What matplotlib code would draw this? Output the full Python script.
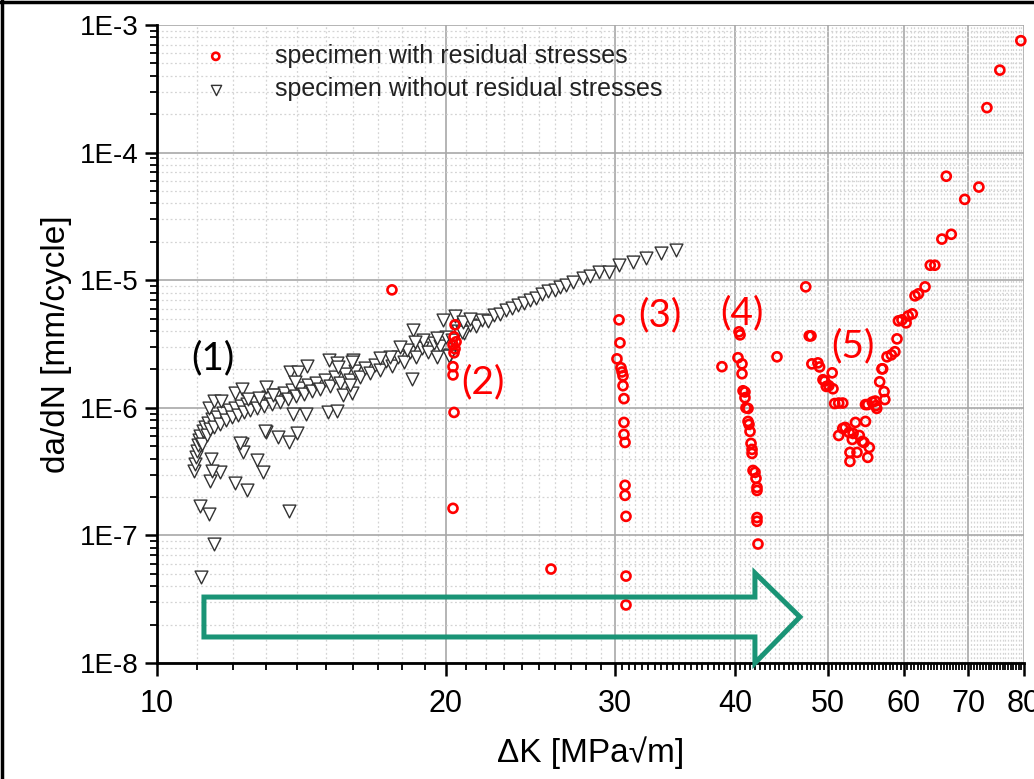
import numpy as np
import matplotlib
matplotlib.use("Agg")
import matplotlib.pyplot as plt
from matplotlib import font_manager
from matplotlib.lines import Line2D
from matplotlib.patches import Polygon
from matplotlib.ticker import FixedLocator, LogLocator, NullFormatter

# specimen without residual stresses (main band, then scattered points)
free_dk = [10.93, 10.95, 10.98, 11.01, 11.03, 11.06, 11.09, 11.14, 11.17, 11.22,
           11.27, 11.30, 11.35, 11.41, 11.47, 11.55, 11.63, 11.72, 11.80, 11.88,
           11.97, 12.06, 12.14, 12.23, 12.32, 12.41, 12.50, 12.62, 12.71, 12.80,
           12.93, 13.05, 13.18, 13.30, 13.43, 13.56, 13.69, 13.82, 13.96, 14.09,
           14.23, 14.36, 14.50, 14.64, 14.78, 14.96, 15.14, 15.33, 15.51, 15.70,
           15.89, 16.08, 16.27, 16.47, 16.67, 16.87, 17.08, 17.32, 17.57, 17.83,
           18.08, 18.35, 18.61, 18.88, 19.16, 19.43, 19.72, 20.00, 20.29, 20.59,
           20.88, 21.19, 21.49, 21.80, 22.12, 22.44, 22.77, 23.10, 23.43, 23.77,
           24.11, 24.47, 24.82, 25.18, 25.54, 25.98, 26.29, 26.67, 27.12, 27.78,
           28.25, 28.87, 29.57, 30.29, 31.32, 32.31, 33.50, 34.72,
           11.11, 11.47, 11.09, 11.33, 13.72, 12.06, 12.41, 12.71, 12.89, 12.26,
           12.29, 11.38, 11.63, 11.35, 11.41, 13.37, 13.72, 13.99, 12.99, 11.33,
           11.47, 11.66, 12.06, 12.26, 12.44, 12.99, 12.77, 13.21, 13.75, 14.02,
           14.33, 13.92, 15.11, 15.40, 15.62, 15.96, 15.07, 15.40, 16.00, 13.86,
           14.30, 12.96, 12.20, 18.48, 18.43, 19.57, 20.20, 19.86, 18.93, 18.57,
           18.21, 17.91, 17.49, 17.08, 15.96, 15.44, 15.89, 20.78, 20.44, 20.14,
           19.57, 20.83, 21.19]
free_dadn = [3.17e-7, 3.60e-7, 4.09e-7, 4.55e-7, 5.07e-7, 5.55e-7, 5.97e-7, 5.16e-7, 6.53e-7, 7.02e-7,
             6.07e-7, 7.54e-7, 6.77e-7, 8.11e-7, 7.02e-7, 8.40e-7, 7.41e-7, 9.03e-7, 7.96e-7, 9.54e-7,
             8.40e-7, 9.89e-7, 8.71e-7, 1.04e-6, 9.20e-7, 1.08e-6, 9.54e-7, 1.11e-6, 9.89e-7, 1.16e-6,
             1.04e-6, 1.22e-6, 1.08e-6, 1.26e-6, 1.11e-6, 1.31e-6, 1.18e-6, 1.38e-6, 1.24e-6, 1.43e-6,
             1.29e-6, 1.51e-6, 1.36e-6, 1.57e-6, 1.41e-6, 1.66e-6, 1.49e-6, 1.75e-6, 1.57e-6, 1.85e-6,
             1.66e-6, 1.95e-6, 1.75e-6, 2.06e-6, 1.88e-6, 2.17e-6, 1.99e-6, 2.33e-6, 2.13e-6, 2.51e-6,
             2.29e-6, 2.75e-6, 2.51e-6, 2.95e-6, 2.75e-6, 3.23e-6, 3.06e-6, 3.60e-6, 3.41e-6, 4.01e-6,
             3.87e-6, 4.47e-6, 4.39e-6, 4.89e-6, 4.80e-6, 5.35e-6, 5.45e-6, 5.86e-6, 6.07e-6, 6.41e-6,
             6.65e-6, 7.02e-6, 7.27e-6, 7.82e-6, 8.25e-6, 8.40e-6, 8.87e-6, 9.20e-6, 9.71e-6, 1.04e-5,
             1.075e-5, 1.155e-5, 1.155e-5, 1.31e-5, 1.38e-5, 1.49e-5, 1.63e-5, 1.72e-5,
             4.72e-8, 8.56e-8, 1.69e-7, 1.46e-7, 1.54e-7, 2.56e-7, 2.25e-7, 3.87e-7, 3.12e-7, 5.16e-7,
             4.47e-7, 3.94e-7, 3.12e-7, 2.65e-7, 3.17e-7, 5.86e-7, 5.35e-7, 6.30e-7, 6.41e-7, 1.00e-6,
             1.13e-6, 1.13e-6, 1.31e-6, 1.41e-6, 1.18e-6, 1.46e-6, 1.20e-6, 1.26e-6, 1.91e-6, 1.91e-6,
             2.13e-6, 1.60e-6, 2.38e-6, 2.25e-6, 1.26e-6, 1.31e-6, 9.20e-7, 9.36e-7, 2.38e-6, 8.87e-7,
             8.87e-7, 6.53e-7, 5.26e-7, 4.09e-6, 1.69e-6, 2.51e-6, 2.60e-6, 4.89e-6, 3.41e-6, 3.29e-6,
             2.85e-6, 3.00e-6, 2.51e-6, 2.47e-6, 2.29e-6, 2.09e-6, 1.51e-6, 3.94e-6, 5.26e-6, 2.55e-6,
             3.54e-6, 4.72e-6, 4.98e-6]

# specimen with residual stresses
rs_dk = [17.57,
         20.44, 20.39, 20.49, 20.34, 20.44, 20.39, 20.34, 20.34, 20.39, 20.34,
         30.29, 30.36, 30.14, 30.43, 30.51, 30.58, 30.58, 30.65, 30.65, 30.65,
         30.73, 30.73, 30.73, 30.80, 30.80, 30.80, 25.73,
         40.39, 40.49, 38.77, 40.29, 40.68, 40.68, 40.78, 40.97, 40.97, 41.07,
         41.27, 41.27, 41.37, 41.47, 41.57, 41.67, 41.67, 41.77, 41.97, 42.07,
         42.17, 42.17, 42.17, 42.17, 42.27, 44.24,
         47.4, 47.8, 48.0, 48.1, 48.8, 49.0, 49.4, 49.6, 50.5, 49.8, 50.1, 50.6,
         50.8, 51.3, 51.8, 54.7, 55.0, 55.6, 56.0, 56.2, 56.1, 56.6, 57.2, 57.3,
         56.9, 57.0, 57.6, 58.2, 58.7, 59.0, 59.2, 59.7, 60.3, 60.6, 61.2, 61.6,
         62.1, 63.1, 63.9, 64.6, 65.7, 67.2, 69.4, 71.8, 66.4, 73.2, 75.5, 79.4,
         54.7, 53.4, 52.1, 51.8, 52.6, 51.3, 53.1, 53.9, 53.0, 54.3, 54.5, 55.2,
         52.7, 53.6, 55.0, 52.7]
rs_dadn = [8.40e-6,
           4.47e-6, 3.60e-6, 3.29e-6, 3.12e-6, 2.90e-6, 2.70e-6, 2.10e-6, 1.81e-6, 9.20e-7, 1.63e-7,
           4.89e-6, 3.23e-6, 2.42e-6, 2.06e-6, 1.91e-6, 1.78e-6, 1.49e-6, 1.18e-6, 7.68e-7, 6.19e-7,
           5.35e-7, 2.47e-7, 2.06e-7, 1.41e-7, 4.80e-8, 2.85e-8, 5.45e-8,
           3.94e-6, 3.73e-6, 2.10e-6, 2.47e-6, 2.21e-6, 1.85e-6, 1.36e-6, 1.33e-6, 1.20e-6, 1.00e-6,
           9.89e-7, 7.82e-7, 7.41e-7, 6.53e-7, 5.26e-7, 4.72e-7, 4.39e-7, 3.23e-7, 3.12e-7, 2.80e-7,
           2.38e-7, 2.25e-7, 1.38e-7, 1.29e-7, 8.56e-8, 2.51e-6,
           8.87e-6, 3.66e-6, 3.66e-6, 2.21e-6, 2.25e-6, 2.09e-6, 1.66e-6, 1.62e-6, 1.88e-6, 1.47e-6, 1.49e-6, 1.41e-6,
           1.08e-6, 1.09e-6, 1.09e-6, 1.06e-6, 1.06e-6, 1.11e-6, 1.13e-6, 9.89e-7, 1.04e-6, 1.60e-6, 1.34e-6, 1.16e-6,
           2.02e-6, 2.02e-6, 2.51e-6, 2.60e-6, 2.75e-6, 3.47e-6, 4.80e-6, 4.89e-6, 4.63e-6, 5.25e-6, 5.45e-6, 7.54e-6,
           7.82e-6, 8.87e-6, 1.31e-5, 1.31e-5, 2.10e-5, 2.29e-5, 4.30e-5, 5.37e-5, 6.53e-5, 2.25e-4, 4.43e-4, 7.54e-4,
           7.82e-7, 7.68e-7, 7.02e-7, 6.89e-7, 6.41e-7, 6.07e-7, 6.30e-7, 6.07e-7, 5.65e-7, 5.45e-7, 5.35e-7, 4.89e-7,
           4.47e-7, 4.47e-7, 4.09e-7, 3.80e-7]

x_ticks = [10, 20, 30, 40, 50, 60, 70, 80]
y_ticks = [1e-8, 1e-7, 1e-6, 1e-5, 1e-4, 1e-3]
y_labels = ["1E-8", "1E-7", "1E-6", "1E-5", "1E-4", "1E-3"]
regions = ["(1)", "(2)", "(3)", "(4)", "(5)"]

installed = {f.name for f in font_manager.fontManager.ttflist}
label_font = "Lato" if "Lato" in installed else "DejaVu Sans"

plt.rcParams["font.family"] = ["Liberation Sans", "DejaVu Sans"]

fig = plt.figure(figsize=(10.34, 7.79), dpi=100)
ax = fig.add_axes([0.1518, 0.1489, 0.8385, 0.819])

ax.scatter(rs_dk, rs_dadn, marker="o", s=42, facecolors="none", edgecolors="#ff0000",
           linewidths=1.9, zorder=4, clip_on=False, label="specimen with residual stresses")
ax.scatter(free_dk, free_dadn, marker="v", s=85, facecolors="white", edgecolors="#333333",
           linewidths=1.0, zorder=3, label="specimen without residual stresses")

ax.set_xscale("log")
ax.set_yscale("log")
ax.set_xlim(10, 80)
ax.set_ylim(1e-8, 1e-3)

ax.set_xticks(x_ticks)
ax.set_xticklabels([str(v) for v in x_ticks], fontsize=22)
minor_x = list(np.arange(11, 30, 1.0)) + list(np.arange(30.5, 80, 0.5))
ax.xaxis.set_minor_locator(FixedLocator([v for v in minor_x if v not in x_ticks]))
ax.xaxis.set_minor_formatter(NullFormatter())
ax.set_yticks(y_ticks)
ax.set_yticklabels(y_labels, fontsize=20)
ax.yaxis.set_minor_locator(LogLocator(base=10, subs=np.arange(2, 10)))
ax.yaxis.set_minor_formatter(NullFormatter())

ax.tick_params(which="major", direction="out", length=9, width=1.8, pad=4)
ax.tick_params(which="minor", direction="out", length=5, width=1.3)
ax.tick_params(axis="x", which="major", pad=10)

ax.grid(which="major", color="#a8a8a8", linewidth=1.2)
ax.grid(which="minor", color="#d4d4d4", linestyle=(0, (1.5, 2)), linewidth=0.9)
ax.set_axisbelow(True)

for side in ["top", "right"]:
    ax.spines[side].set_visible(False)
for side in ["left", "bottom"]:
    ax.spines[side].set_linewidth(2.0)

ax.set_xlabel("ΔK [MPa√m]", fontsize=24, labelpad=12)
ax.set_ylabel("da/dN [mm/cycle]", fontsize=24, labelpad=6)

leg = ax.legend(loc="upper left", bbox_to_anchor=(0.039, 0.99), frameon=False,
                fontsize=18, markerscale=0.8, borderpad=0, handlelength=1.0,
                handletextpad=1.85, labelspacing=0.38)
for t in leg.get_texts():
    t.set_color("#222222")

# region labels
label_pos = [(0.0646, 0.478), (0.376, 0.440), (0.580, 0.5455), (0.675, 0.5486), (0.803, 0.497)]
label_col = ["black", "red", "red", "red", "red"]
for txt, (lx, ly), c in zip(regions, label_pos, label_col):
    ax.text(lx, ly, txt, transform=ax.transAxes, fontsize=28, color=c,
            family=label_font, ha="center", va="center", zorder=5)

# outlined arrow along the bottom
arrow_pts = [(0.0542, 0.1034), (0.6897, 0.1034), (0.6897, 0.141), (0.7416, 0.0722),
             (0.6897, 0.0), (0.6897, 0.0408), (0.0542, 0.0408)]
ax.add_patch(Polygon(arrow_pts, closed=True, fill=False, edgecolor="#1a9476",
                     linewidth=3.6, transform=ax.transAxes, zorder=6, clip_on=False,
                     joinstyle="miter"))

# frame around the picture (left and top only)
fig.add_artist(Line2D([0.002, 0.002], [0, 1], color="black", linewidth=2.5))
fig.add_artist(Line2D([0, 1], [0.997, 0.997], color="black", linewidth=2.5))

fig.savefig("out.png", dpi=100)
